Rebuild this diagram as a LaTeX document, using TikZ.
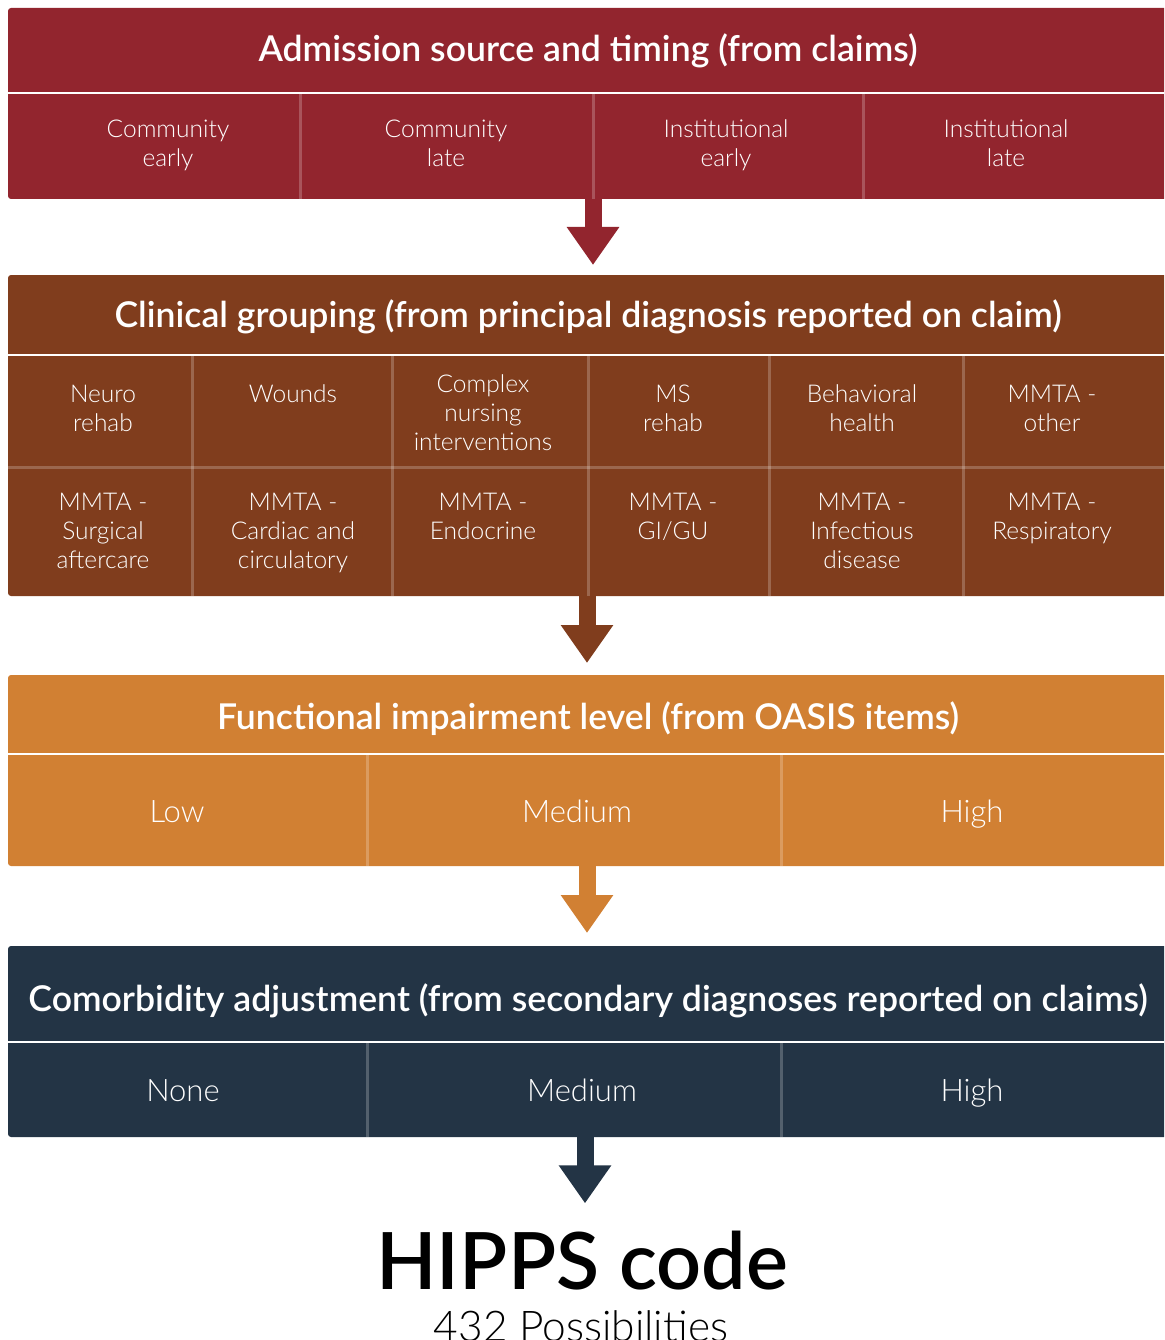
\documentclass[tikz,border=0pt]{standalone}
\usepackage{fontspec}
\usepackage{tikz}
\usetikzlibrary{arrows.meta, positioning}
\setmainfont{Lato}
\IfFontExistsTF{Lato Light}{\newfontfamily\lightfont{Lato Light}}{\newcommand\lightfont{\normalfont}}
\IfFontExistsTF{Lato Semibold}{\newfontfamily\heavyfont{Lato Semibold}}{\newcommand\heavyfont{\bfseries}}
\definecolor{admred}{HTML}{92252E}
\definecolor{clinbrown}{HTML}{803D1D}
\definecolor{funcorange}{HTML}{D18033}
\definecolor{comnavy}{HTML}{233445}

\begin{document}
\begin{tikzpicture}[
  x=1pt, y=-1pt,
  panel/.style={rectangle, rounded corners=3pt, minimum width=1170pt, inner sep=0pt, outer sep=0pt, anchor=north west},
  head/.style={text=white, inner sep=0pt, anchor=base, font=\heavyfont\fontsize{35.6}{40}\selectfont},
  item/.style={text=white, align=center, inner sep=0pt, anchor=base, font=\lightfont\fontsize{24.5}{29}\selectfont},
  level/.style={text=white, inner sep=0pt, anchor=base, font=\lightfont\fontsize{31}{36}\selectfont},
  rule/.style={white, line width=2.5pt},
  sep/.style={white, opacity=0.22, line width=3pt},
  flow/.style={line width=17pt, -{Triangle[width=50pt, length=38pt]}}
]
\clip (0,0) rectangle (1164,1340);

\node[panel, fill=admred, minimum height=191pt] (adm) at (8,8) {};
\node[head] (admT) at (588,62) {Admission source and timing (from claims)};
\draw[rule] (8,93) -- (1178,93);
\foreach \xs in {300,593,863} \draw[sep] (\xs,94) -- (\xs,199);
\node[item] (ce) at (168,167) {Community\\early};
\node[item] (cl) at (446,167) {Community\\late};
\node[item] (ie) at (726,167) {Institutional\\early};
\node[item] (il) at (1006,167) {Institutional\\late};

\node[panel, fill=clinbrown, minimum height=321pt] (clin) at (8,275) {};
\node[head] (clinT) at (588,327) {Clinical grouping (from principal diagnosis reported on claim)};
\draw[rule] (8,355) -- (1178,355);
\draw[sep] (8,467) -- (1178,467);
\foreach \xs in {192,392,588,769,963} \draw[sep] (\xs,356) -- (\xs,596);
\node[item] (neuro) at (103,431) {Neuro\\rehab};
\node[item] (wound) at (293,402) {Wounds};
\node[item] (nurse) at (483,450) {Complex\\nursing\\interventions};
\node[item] (ms) at (673,431) {MS\\rehab};
\node[item] (behav) at (862,431) {Behavioral\\health};
\node[item] (other) at (1052,431) {MMTA -\\other};
\node[item] (surg) at (103,568) {MMTA -\\Surgical\\aftercare};
\node[item] (card) at (293,568) {MMTA -\\Cardiac and\\circulatory};
\node[item] (endo) at (483,539) {MMTA -\\Endocrine};
\node[item] (gigu) at (673,539) {MMTA -\\GI/GU};
\node[item] (infec) at (862,568) {MMTA -\\Infectious\\disease};
\node[item] (resp) at (1052,539) {MMTA -\\Respiratory};

\node[panel, fill=funcorange, minimum height=191pt] (func) at (8,675) {};
\node[head] (funcT) at (588,729) {Functional impairment level (from OASIS items)};
\draw[rule] (8,754) -- (1178,754);
\foreach \xs in {367,781} \draw[sep] (\xs,755) -- (\xs,866);
\node[level] (flow) at (177,822) {Low};
\node[level] (fmed) at (577,822) {Medium};
\node[level] (fhigh) at (972,822) {High};

\node[panel, fill=comnavy, minimum height=191pt] (como) at (8,946) {};
\node[head] (comoT) at (588,1011) {Comorbidity adjustment (from secondary diagnoses reported on claims)};
\draw[rule] (8,1042) -- (1178,1042);
\foreach \xs in {367,781} \draw[sep] (\xs,1043) -- (\xs,1137);
\node[level] (cnone) at (183,1101) {None};
\node[level] (cmed) at (582,1101) {Medium};
\node[level] (chigh) at (972,1101) {High};

\node[inner sep=0pt, anchor=base, font=\heavyfont\fontsize{79}{85}\selectfont] (hipps) at (582,1289) {HIPPS code};
\node[inner sep=0pt, anchor=base, font=\lightfont\fontsize{42.4}{46}\selectfont] (poss) at (581,1341) {432 Possibilities};

\coordinate (c1) at (adm.south);
\coordinate (c2) at ([xshift=-6pt]clin.south);
\coordinate (c3) at ([xshift=-6pt]func.south);
\coordinate (c4) at ([xshift=-8pt]como.south);
\draw[flow, admred, shorten >=10pt] (c1) -- (c1 |- clin.north);
\draw[flow, clinbrown, shorten >=12pt] (c2) -- (c2 |- func.north);
\draw[flow, funcorange, shorten >=13pt] (c3) -- (c3 |- como.north);
\draw[flow, comnavy, shorten >=27pt] (c4) -- (c4 |- hipps.north);
\end{tikzpicture}
\end{document}
